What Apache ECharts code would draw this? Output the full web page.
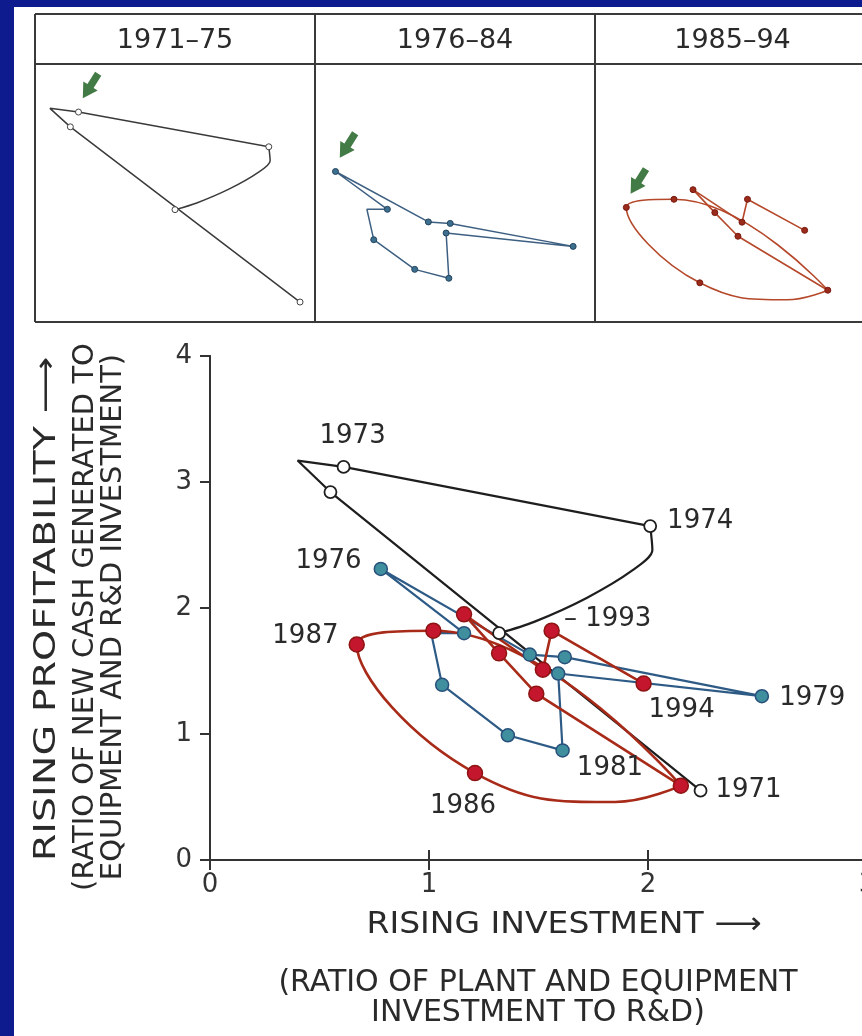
<!DOCTYPE html>
<html>
<head>
<meta charset="utf-8">
<title>Rising profitability vs rising investment</title>
<script src="https://cdn.jsdelivr.net/npm/echarts@6/dist/echarts.min.js"></script>
<style>
  html, body { margin: 0; padding: 0; background: #0e1b8e; }
  #main { width: 862px; height: 1036px; }
</style>
</head>
<body>
<div id="main"></div>
<script>
// 1971-75, black open circles ('' = a point, no year marker)
const blackYears = ['1971', '1972', '', '1973', '1974', '', '', '', '', '1975'];
const blackX = [2.24, 0.55, 0.40, 0.61, 2.01, 2.02, 1.93, 1.72, 1.48, 1.32];
const blackY = [0.55, 2.92, 3.17, 3.12, 2.65, 2.46, 2.30, 2.08, 1.89, 1.80];

// 1976-84, blue; first entry is where the path joins back into 1976
const blueYears = ['', '1976', '1977', '1978', '1979', '1980', '1981', '1982', '1983', '', '1984'];
const blueX = [1.16, 0.78, 1.46, 1.62, 2.52, 1.59, 1.61, 1.36, 1.06, 1.01, 1.16];
const blueY = [1.80, 2.31, 1.63, 1.61, 1.30, 1.48, 0.87, 0.99, 1.39, 1.80, 1.80];

// 1985-94, red; the loop comes back round past the 1985 point
const redYears = ['1985', '', '1986', '1987', '1988', '', '1989', '1990', '1991', '1992', '1993', '1994'];
const redX = [2.15, 1.85, 1.21, 0.67, 1.02, 2.15, 1.49, 1.32, 1.16, 1.52, 1.56, 1.98];
const redY = [0.59, 0.46, 0.69, 1.71, 1.82, 0.59, 1.32, 1.64, 1.95, 1.51, 1.82, 1.40];

const periods = ['1971–75', '1976–84', '1985–94'];
const arrowYears = ['1973', '1976', '1987'];
const labelledYears = ['1971', '1973', '1974', '1976', '1979', '1981', '1986', '1987', '1993', '1994'];
const xTicks = [0, 1, 2, 3];
const yTicks = [0, 1, 2, 3, 4];

const FONT = 'DejaVu Sans';
const INK = '#2a2a2a';
const ARROW = 'path://M3,0 L9,0 L9,9 L13,9 L6,18 L-1,9 L3,9 Z';

// where each year label sits next to its point
const labelPlace = {
  '1971': { position: 'right', distance: 8, offset: [0, 0] },
  '1973': { position: 'top', distance: 5, offset: [9, -6] },
  '1974': { position: 'right', distance: 10, offset: [0, -5] },
  '1976': { position: 'left', distance: 12, offset: [0, -8] },
  '1979': { position: 'right', distance: 10, offset: [0, 2] },
  '1981': { position: 'right', distance: 7, offset: [0, 18] },
  '1986': { position: 'bottom', distance: 12, offset: [-12, 0] },
  '1987': { position: 'left', distance: 10, offset: [0, -8] },
  '1993': { position: 'right', distance: 4, offset: [0, -11], text: '– 1993' },
  '1994': { position: 'bottom', distance: 5, offset: [38, 0] }
};

// small panels: cell boxes and their visible data range
const cells = [{ left: 35, width: 280 }, { left: 315, width: 280 }, { left: 595, width: 275 }];
const cellTop = 64, cellH = 258;
const panelRange = [
  { x: [0.29, 2.35], y: [0.28, 3.77] },
  { x: [0.63, 2.68], y: [0.28, 3.76] },
  { x: [0.44, 2.46], y: [0.16, 3.65] }
];

function pts(xs, ys, from, to) {
  const out = [];
  for (let i = from; i <= to; i++) out.push([xs[i], ys[i]]);
  return out;
}

function lineSeries(xs, ys, from, to, color, width, smooth, ax, z) {
  return {
    type: 'line', xAxisIndex: ax, yAxisIndex: ax,
    data: pts(xs, ys, from, to),
    showSymbol: false, smooth: smooth,
    lineStyle: { color: color, width: width },
    z: z, silent: true
  };
}

function markerSeries(years, xs, ys, st, ax, z, withLabels) {
  const data = [];
  years.forEach(function (yr, i) {
    if (!yr) return;
    const item = { value: [xs[i], ys[i]], name: yr };
    if (withLabels && labelledYears.indexOf(yr) >= 0) {
      const p = labelPlace[yr];
      item.label = { show: true, position: p.position, distance: p.distance, offset: p.offset, formatter: p.text || yr };
    }
    data.push(item);
  });
  return {
    type: 'scatter', xAxisIndex: ax, yAxisIndex: ax, data: data,
    symbol: 'circle', symbolSize: st.size,
    itemStyle: { color: st.fill, borderColor: st.stroke, borderWidth: st.bw, opacity: 1 },
    label: { show: false, fontFamily: FONT, fontSize: 26, color: INK },
    z: z, silent: true
  };
}

function arrowSeries(years, xs, ys, panel, ax) {
  const i = years.indexOf(arrowYears[panel]);
  return {
    type: 'scatter', xAxisIndex: ax, yAxisIndex: ax,
    data: [[xs[i], ys[i]]],
    symbol: ARROW, symbolSize: [17, 29], symbolRotate: -32, symbolOffset: [12, -26],
    itemStyle: { color: '#145a18' }, z: 10, silent: true
  };
}

const frameLine = { show: true, lineStyle: { color: '#333', width: 2 } };

const xAxes = [
  { gridIndex: 0, type: 'value', position: 'bottom', min: xTicks[0], max: xTicks[xTicks.length - 1], interval: 1,
    axisLine: frameLine, splitLine: { show: false },
    axisTick: { show: true, inside: true, length: 10, lineStyle: { color: '#333', width: 2 } },
    axisLabel: { fontFamily: FONT, fontSize: 26, color: '#333', margin: 12 } },
  { gridIndex: 0, type: 'value', position: 'top', min: xTicks[0], max: xTicks[xTicks.length - 1], interval: 1,
    axisLine: frameLine, splitLine: { show: false },
    axisTick: { show: true, inside: true, length: 10, lineStyle: { color: '#333', width: 2 } },
    axisLabel: { show: false } }
];
const yAxes = [
  { gridIndex: 0, type: 'value', position: 'left', min: yTicks[0], max: yTicks[yTicks.length - 1], interval: 1,
    axisLine: frameLine, splitLine: { show: false },
    axisTick: { show: true, inside: false, length: 8, lineStyle: { color: '#333', width: 2 } },
    axisLabel: { fontFamily: FONT, fontSize: 26, color: '#333', margin: 18 } },
  { gridIndex: 0, type: 'value', position: 'right', min: yTicks[0], max: yTicks[yTicks.length - 1], interval: 1,
    axisLine: frameLine, splitLine: { show: false },
    axisTick: { show: true, inside: true, length: 10, lineStyle: { color: '#333', width: 2 } },
    axisLabel: { show: false } }
];
panelRange.forEach(function (r, k) {
  xAxes.push({ gridIndex: k + 1, type: 'value', min: r.x[0], max: r.x[1], show: false });
  yAxes.push({ gridIndex: k + 1, type: 'value', min: r.y[0], max: r.y[1], show: false });
});

const grids = [{ left: 210, top: 356, width: 657, height: 504, outerBoundsMode: 'none' }];
cells.forEach(function (c) {
  grids.push({ left: c.left, top: cellTop, width: c.width, height: cellH, outerBoundsMode: 'none' });
});

const blackDot = { size: 12, fill: '#fff', stroke: '#1e1e1e', bw: 1.8 };
const blueDot = { size: 13, fill: '#3f8f9f', stroke: '#28507a', bw: 1.5 };
const redDot = { size: 15, fill: '#c4162c', stroke: '#8e1414', bw: 1.5 };
const nB = blackYears.length - 1, nU = blueYears.length - 1, nR = redYears.length - 1;
const blackBend = 4; // black: straight up to 1974, curved after it
const loopEnd = 5;   // red: end of the smooth loop (back at 1985)

const series = [
  // main chart
  lineSeries(blackX, blackY, 0, blackBend, '#1e1e1e', 2.2, false, 0, 3),
  lineSeries(blackX, blackY, blackBend, nB, '#1e1e1e', 2.2, 0.3, 0, 3),
  lineSeries(blueX, blueY, 0, nU, '#2e5b86', 2.2, false, 0, 4),
  lineSeries(redX, redY, 0, loopEnd, '#a82a18', 2.6, 0.45, 0, 5),
  lineSeries(redX, redY, loopEnd, nR, '#a82a18', 2.6, false, 0, 5),
  markerSeries(blackYears, blackX, blackY, blackDot, 0, 6, true),
  markerSeries(blueYears, blueX, blueY, blueDot, 0, 7, true),
  markerSeries(redYears, redX, redY, redDot, 0, 8, true),
  // small panels (axis index 2, 3, 4)
  lineSeries(blackX, blackY, 0, blackBend, '#3a3a3a', 1.5, false, 2, 3),
  lineSeries(blackX, blackY, blackBend, nB, '#3a3a3a', 1.5, 0.3, 2, 3),
  markerSeries(blackYears, blackX, blackY, { size: 6, fill: '#fff', stroke: '#444', bw: 1 }, 2, 6, false),
  arrowSeries(blackYears, blackX, blackY, 0, 2),
  lineSeries(blueX, blueY, 0, nU, '#3d5f82', 1.5, false, 3, 3),
  markerSeries(blueYears, blueX, blueY, { size: 6, fill: '#3d6f8f', stroke: '#24445e', bw: 1 }, 3, 6, false),
  arrowSeries(blueYears, blueX, blueY, 1, 3),
  lineSeries(redX, redY, 0, loopEnd, '#b5482a', 1.6, 0.45, 4, 3),
  lineSeries(redX, redY, loopEnd, nR, '#b5482a', 1.6, false, 4, 3),
  markerSeries(redYears, redX, redY, { size: 6, fill: '#9a2a1a', stroke: '#7a1a10', bw: 1 }, 4, 6, false),
  arrowSeries(redYears, redX, redY, 2, 4)
];

function txt(x, y, text, size, rot, sx) {
  return {
    type: 'text', x: x, y: y, rotation: rot || 0, scaleX: sx || 1, z: 50,
    style: { text: text, fontFamily: FONT, fontSize: size, fill: INK, align: 'center', verticalAlign: 'middle' }
  };
}
function seg(x1, y1, x2, y2) {
  return { type: 'line', z: 50, shape: { x1: x1, y1: y1, x2: x2, y2: y2 }, style: { stroke: '#3a3a3a', lineWidth: 2 } };
}

const graphics = [
  { type: 'rect', z: -100, shape: { x: 14, y: 7, width: 860, height: 1040 }, style: { fill: '#ffffff' } },
  seg(35, 14, 870, 14), seg(35, 64, 870, 64), seg(35, 322, 870, 322),
  seg(35, 14, 35, 322), seg(315, 14, 315, 322), seg(595, 14, 595, 322)
];
cells.forEach(function (c, k) {
  graphics.push(txt(c.left + c.width / 2, 41, periods[k], 27));
});
graphics.push(txt(47, 609, 'RISING PROFITABILITY ⟶', 30, Math.PI / 2, 1.32));
graphics.push(txt(85, 617, '(RATIO OF NEW CASH GENERATED TO', 29, Math.PI / 2));
graphics.push(txt(113, 617, 'EQUIPMENT AND R&D INVESTMENT)', 29, Math.PI / 2));
graphics.push(txt(564, 925, 'RISING INVESTMENT ⟶', 30, 0, 1.1));
graphics.push(txt(538, 983, '(RATIO OF PLANT AND EQUIPMENT', 30));
graphics.push(txt(538, 1013, 'INVESTMENT TO R&D)', 30));

const chart = echarts.init(document.getElementById('main'));
chart.setOption({
  animation: false,
  backgroundColor: '#0e1b8e',
  grid: grids,
  xAxis: xAxes,
  yAxis: yAxes,
  series: series,
  graphic: { elements: graphics }
});
</script>
</body>
</html>
